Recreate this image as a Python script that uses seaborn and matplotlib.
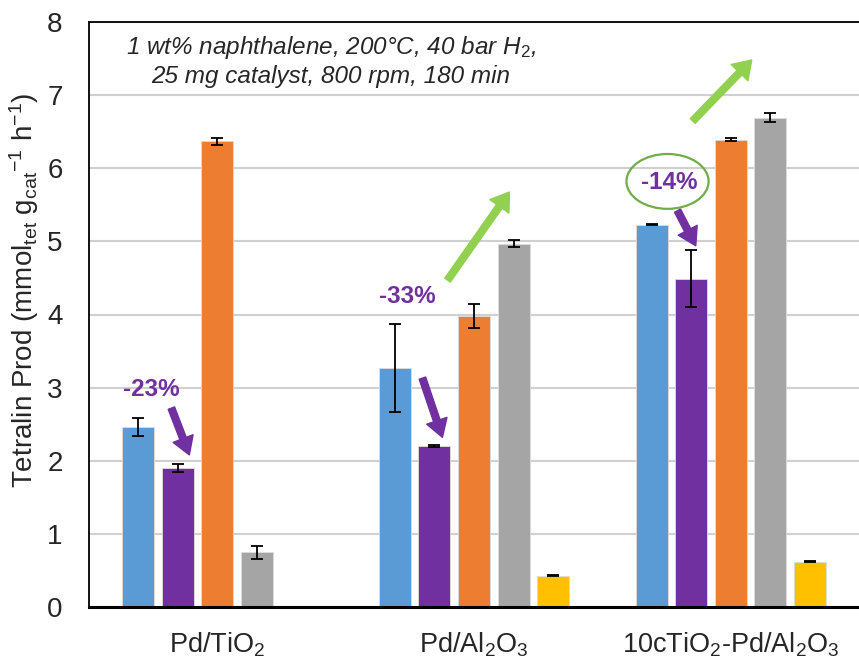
import numpy as np
import pandas as pd
import matplotlib
matplotlib.use("Agg")
import matplotlib.pyplot as plt
import seaborn as sns
from matplotlib.patches import Ellipse

# catalysts on the x axis, five conditions per catalyst
catalysts = ["Pd/TiO$_2$", "Pd/Al$_2$O$_3$", "10cTiO$_2$-Pd/Al$_2$O$_3$"]
conditions = ["A", "B", "C", "D", "E"]
colors = ["#5B9BD5", "#7030A0", "#ED7D31", "#A5A5A5", "#FFC000"]

# tetralin productivity, one list per condition (NaN = not measured)
prod_a = [2.46, 3.27, 5.23]
prod_b = [1.90, 2.20, 4.49]
prod_c = [6.37, 3.98, 6.39]
prod_d = [0.75, 4.97, 6.69]
prod_e = [np.nan, 0.43, 0.62]

err_a = [0.12, 0.60, 0.01]
err_b = [0.05, 0.01, 0.39]
err_c = [0.05, 0.17, 0.02]
err_d = [0.09, 0.05, 0.06]
err_e = [np.nan, 0.01, 0.01]

values = [prod_a, prod_b, prod_c, prod_d, prod_e]
errors = [err_a, err_b, err_c, err_d, err_e]

rows = []
for cond, vals, errs in zip(conditions, values, errors):
    for cat, v, e in zip(catalysts, vals, errs):
        if not np.isnan(v):
            rows.append({"catalyst": cat, "condition": cond, "prod": v, "err": e})
df = pd.DataFrame(rows)

sns.set_style("white")
plt.rcParams["font.family"] = ["Liberation Sans", "DejaVu Sans"]
plt.rcParams["mathtext.fontset"] = "custom"
plt.rcParams["mathtext.rm"] = "Liberation Sans"
plt.rcParams["mathtext.it"] = "Liberation Sans:italic"

fig = plt.figure(figsize=(8.59, 6.59), dpi=100)
ax = fig.add_axes([89 / 859, 52 / 659, 770 / 859, 585 / 659])

sns.barplot(data=df, x="catalyst", y="prod", hue="condition",
            order=catalysts, hue_order=conditions, palette=colors,
            saturation=1, width=0.77, gap=0.19, errorbar=None, legend=False,
            edgecolor="#DDDDDD", linewidth=0.6, ax=ax, zorder=2)

# error bars at the centre of each drawn bar
for cond, cont in zip(conditions, ax.containers):
    sub = df[df["condition"] == cond].set_index("catalyst")
    for bar in cont:
        xc = bar.get_x() + bar.get_width() / 2
        cat = catalysts[int(round(xc))]
        ax.errorbar(xc, sub.loc[cat, "prod"], yerr=sub.loc[cat, "err"],
                    fmt="none", ecolor="black", elinewidth=1.3,
                    capsize=4.5, capthick=1.3, zorder=3)

ax.set_xlim(-0.5, 2.5)
ax.set_ylim(0, 8)
ax.set_yticks(range(0, 9))
ax.yaxis.grid(True, color="#D0D0D0", linewidth=1.5, zorder=0)
ax.set_axisbelow(True)
ax.tick_params(axis="y", direction="in", length=7, width=1.2, labelsize=20, pad=19)
ax.tick_params(axis="x", length=0, labelsize=19.5, pad=17)
ax.set_xlabel("")
ax.set_ylabel("Tetralin Prod (mmol$_{\\mathrm{tet}}$ g$_{\\mathrm{cat}}$$^{\\mathrm{-1}}$ h$^{\\mathrm{-1}}$)",
              fontsize=20)
ax.yaxis.set_label_coords(-0.062, 0.542)
for side in ["left", "top"]:
    ax.spines[side].set_color("black")
    ax.spines[side].set_linewidth(1.3)
ax.spines["right"].set_visible(False)
ax.spines["bottom"].set_color("black")
ax.spines["bottom"].set_linewidth(2.2)

ax.text(0.314, 0.933,
        "1 wt% naphthalene, 200°C, 40 bar H$_2$,\n25 mg catalyst, 800 rpm, 180 min",
        transform=ax.transAxes, ha="center", va="center", fontsize=17.5,
        style="italic", linespacing=1.2)

purple = "#7030A0"
green = "#92D050"
purple_arrow = dict(arrowstyle="simple,head_length=0.9,head_width=1.1,tail_width=0.35",
                    color=purple, mutation_scale=14, shrinkA=0, shrinkB=0)
green_arrow = dict(arrowstyle="simple,head_length=0.9,head_width=1.2,tail_width=0.35",
                   color=green, mutation_scale=14, shrinkA=0, shrinkB=0)

for txt, tx, ty, tail, head in [("-23%", -0.257, 2.97, (-0.179, 2.72), (-0.109, 2.08)),
                                ("-33%", 0.741, 4.24, (0.799, 3.13), (0.877, 2.32)),
                                ("-14%", 1.762, 5.80, (1.793, 5.42), (1.864, 4.94))]:
    ax.text(tx, ty, txt, color=purple, fontsize=17.5, fontweight="bold",
            ha="center", va="center", zorder=5)
    ax.annotate("", xy=head, xytext=tail, arrowprops=purple_arrow, zorder=5)

ax.add_patch(Ellipse((1.754, 5.82), 0.32, 0.75, fill=False,
                     edgecolor="#70AD47", linewidth=1.6, zorder=5))

ax.annotate("", xy=(1.138, 5.675), xytext=(0.897, 4.47), arrowprops=green_arrow, zorder=5)
ax.annotate("", xy=(2.082, 7.48), xytext=(1.852, 6.646), arrowprops=green_arrow, zorder=5)

fig.savefig("out.png", dpi=100)
